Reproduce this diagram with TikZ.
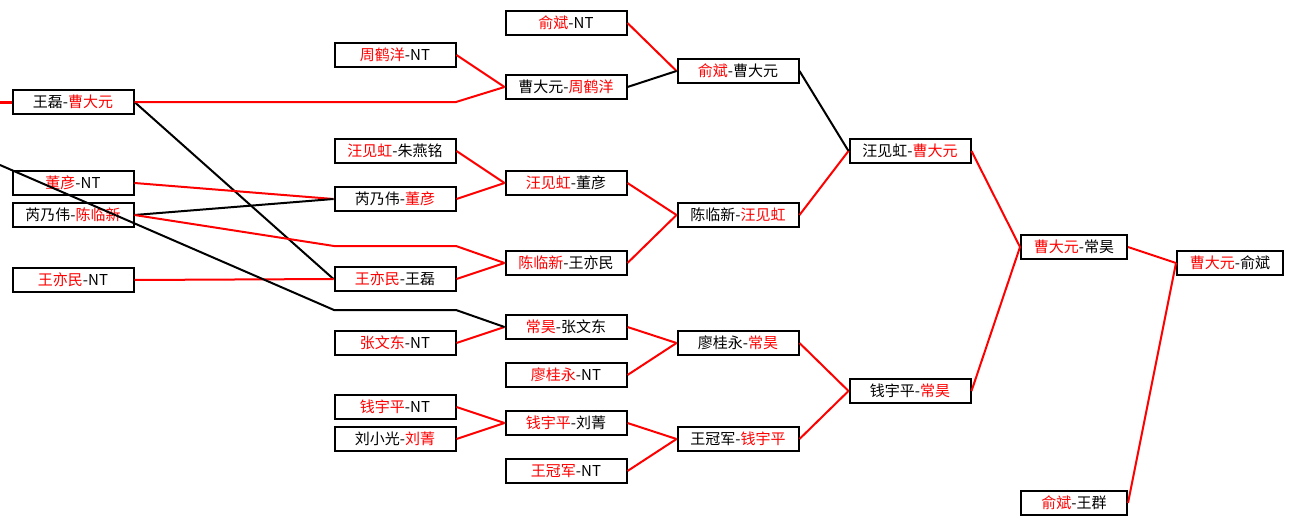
\documentclass[tikz,border=0pt]{standalone}
\usepackage{fontspec}
\setmainfont{Noto Sans CJK SC}
\newcommand{\win}[1]{\textcolor{red}{#1}}

\begin{document}
\begin{tikzpicture}[x=1pt,y=-1pt]

      \useasboundingbox (0,0) rectangle (1294,525);

      \begin{scope}[every node/.style={draw, line width=2pt, minimum width=121pt,
          minimum height=24pt, inner sep=0pt, font=\fontsize{15}{15}\selectfont}]
        % round 1
        \node (1)  at (73,102)  {王磊-\win{曹大元}};
        \node (2)  at (73,183)  {\win{董彦}-NT};
        \node (3)  at (73,215)  {芮乃伟-\win{陈临新}};
        \node (4)  at (73,280)  {\win{王亦民}-NT};
        % round 2
        \node (5)  at (395,55)  {\win{周鹤洋}-NT};
        \node (6)  at (395,151) {\win{汪见虹}-朱燕铭};
        \node (7)  at (395,199) {芮乃伟-\win{董彦}};
        \node (8)  at (395,279) {\win{王亦民}-王磊};
        \node (9)  at (395,343) {\win{张文东}-NT};
        \node (10) at (395,407) {\win{钱宇平}-NT};
        \node (11) at (395,439) {刘小光-\win{刘菁}};
        % round 3
        \node (12) at (566,23)  {\win{俞斌}-NT};
        \node (13) at (566,87)  {曹大元-\win{周鹤洋}};
        \node (14) at (566,183) {\win{汪见虹}-董彦};
        \node (15) at (566,263) {\win{陈临新}-王亦民};
        \node (16) at (566,327) {\win{常昊}-张文东};
        \node (17) at (566,375) {\win{廖桂永}-NT};
        \node (18) at (566,423) {\win{钱宇平}-刘菁};
        \node (19) at (566,471) {\win{王冠军}-NT};
        % round 4
        \node (20) at (738,71)  {\win{俞斌}-曹大元};
        \node (21) at (738,215) {陈临新-\win{汪见虹}};
        \node (22) at (738,343) {廖桂永-\win{常昊}};
        \node (23) at (738,439) {王冠军-\win{钱宇平}};
        % round 5
        \node (24) at (910,151) {汪见虹-\win{曹大元}};
        \node (25) at (910,391) {钱宇平-\win{常昊}};
        % final rounds
        \node[minimum width=106pt] (26) at (1074,247) {\win{曹大元}-常昊};
        \node[minimum width=106pt] (27) at (1074,503) {\win{俞斌}-王群};
        \node[minimum width=106pt] (28) at (1230,263) {\win{曹大元}-俞斌};
      \end{scope}

      \coordinate (in1) at (0,102);
      \coordinate (in2) at (0,165);
      \coordinate (a1) at (456,102);
      \coordinate (a2) at (334,246);
      \coordinate (a3) at (456,246);
      \coordinate (a4) at (334,310);
      \coordinate (a5) at (456,310);

      \begin{scope}[every edge/.style={draw, line width=2pt}]
        \path (in1)      edge[red, line width=3pt] (1.west);
        \path (1.east)   edge        (8.west);
        \path (2.east)   edge[red]   (7.west);
        \path (3.east)   edge        (7.west);
        \path (4.east)   edge[red]   (8.west);
        \path (5.east)   edge[red]   (13.west);
        \path (6.east)   edge[red]   (14.west);
        \path (7.east)   edge[red]   (14.west);
        \path (8.east)   edge[red]   (15.west);
        \path (9.east)   edge[red]   (16.west);
        \path (10.east)  edge[red]   (18.west);
        \path (11.east)  edge[red]   (18.west);
        \path (12.east)  edge[red]   (20.west);
        \path (13.east)  edge        (20.west);
        \path (14.east)  edge[red]   (21.west);
        \path (15.east)  edge[red]   (21.west);
        \path (16.east)  edge[red]   (22.west);
        \path (17.east)  edge[red]   (22.west);
        \path (18.east)  edge[red]   (23.west);
        \path (19.east)  edge[red]   (23.west);
        \path (20.east)  edge        (24.west);
        \path (21.east)  edge[red]   (24.west);
        \path (22.east)  edge[red]   (25.west);
        \path (23.east)  edge[red]   (25.west);
        \path (24.east)  edge[red]   (26.west);
        \path (25.east)  edge[red]   (26.west);
        \path (26.east)  edge[red]   (28.west);
        \path (27.east)  edge[red]   (28.west);
      \end{scope}

      % routed lines
      \draw[red, line width=2pt, line join=round] (1.east) -- (a1) -- (13.west);
      \draw[red, line width=2pt, line join=round] (3.east) -- (a2) -- (a3) -- (15.west);
      \draw[line width=2pt, line join=round] (in2) -- (a4) -- (a5) -- (16.west);

    \end{tikzpicture}
\end{document}
